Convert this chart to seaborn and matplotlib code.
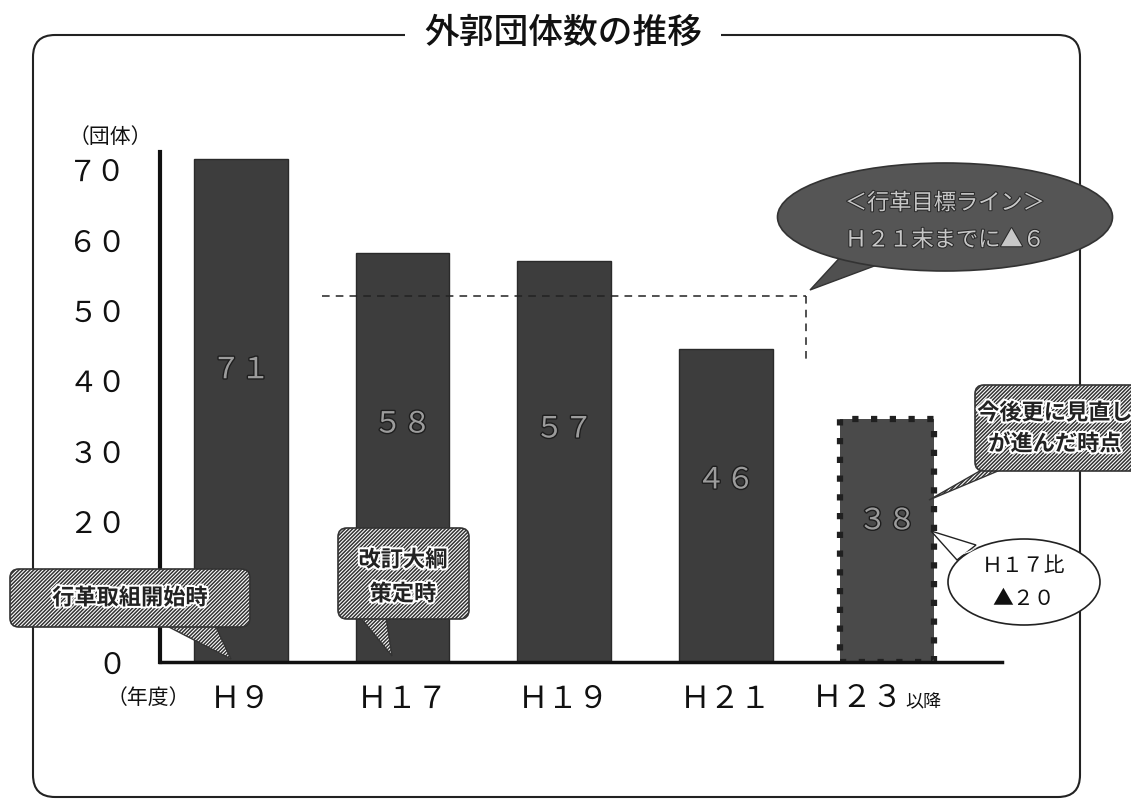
import numpy as np
import pandas as pd
import seaborn as sns
import matplotlib.pyplot as plt
from matplotlib.patches import FancyBboxPatch, Ellipse, Polygon
import matplotlib.patheffects as pe

# データ
nendo = ['Ｈ９', 'Ｈ１７', 'Ｈ１９', 'Ｈ２１', 'Ｈ２３']
bar_heights = [71.5, 58.2, 57.0, 44.5, 34.5]   # 図中の棒の高さ
bar_labels = [71, 58, 57, 46, 38]               # 棒の中の数字
y_ticks = [0, 10, 20, 30, 40, 50, 60, 70]
target_line = 52      # 行革目標ライン
target_line_end = 43

zen = str.maketrans('0123456789', '０１２３４５６７８９')

sns.set_style('white')
plt.rcParams['font.family'] = ['Noto Sans CJK JP', 'DejaVu Sans']
plt.rcParams['hatch.linewidth'] = 1.1

fig = plt.figure(figsize=(11.31, 8.02), dpi=100)
ax = fig.add_axes([160 / 1131, 140 / 802, 842 / 1131, 510 / 802])
ax.set_facecolor('none')

df = pd.DataFrame({'nendo': nendo, 'value': bar_heights})
sns.barplot(data=df, x='nendo', y='value', color='#3d3d3d', saturation=1,
            width=0.58, ax=ax, zorder=2)
for p in ax.patches:
    p.set_edgecolor('#2a2a2a')
    p.set_linewidth(1)

# H23以降は点線枠
last = ax.patches[-1]
last.set_facecolor('#4a4a4a')
last.set_edgecolor('#202020')
last.set_linewidth(4.5)
last.set_linestyle((0, (1, 2.0)))

ax.set_xlim(-0.5, 4.71)
ax.set_ylim(0, 72.5)
ax.set_xlabel('')
ax.set_ylabel('')

# 10 の目盛りラベルは吹き出しに隠れている
ax.set_yticks(y_ticks)
ax.set_yticklabels(['' if v == 10 else str(v).translate(zen) for v in y_ticks],
                   fontsize=21)
ax.set_xticks(range(len(nendo)))
ax.set_xticklabels(nendo[:-1] + [''], fontsize=22)
ax.set_xticks(np.arange(-0.5, len(nendo), 1), minor=True)
ax.tick_params(axis='y', direction='in', length=8, width=1.5, pad=24, colors='#111')
ax.tick_params(axis='x', which='major', length=0, pad=16, colors='#111')
ax.tick_params(axis='x', which='minor', direction='in', length=25, width=1.2, color='#111')

for s in ['top', 'right']:
    ax.spines[s].set_visible(False)
ax.spines['left'].set_linewidth(3)
ax.spines['left'].set_color('#111')
ax.spines['bottom'].set_linewidth(2.5)
ax.spines['bottom'].set_color('#111')

# 棒の中の数字
for i, (h, lab) in enumerate(zip(bar_heights, bar_labels)):
    ax.text(i, h * 0.58, str(lab).translate(zen), ha='center', va='center',
            fontsize=21, color='#9c9c9c', zorder=4,
            path_effects=[pe.withStroke(linewidth=2, foreground='#1e1e1e')])

# 目標ライン（破線）
ax.plot([0.5, 3.5], [target_line, target_line], color='#222', lw=1.1,
        ls=(0, (5, 4)), zorder=3)
ax.plot([3.5, 3.5], [target_line, target_line_end], color='#222', lw=1.1,
        ls=(0, (5, 4)), zorder=3)

# 重ね描き用（ピクセル座標）
ov = fig.add_axes([0, 0, 1, 1], zorder=5)
ov.set_xlim(0, 1131)
ov.set_ylim(802, 0)
ov.axis('off')
ov.set_facecolor('none')

# 外枠とタイトル
frame = FancyBboxPatch((33, 35), 1047, 762, boxstyle='round,pad=0,rounding_size=22',
                       fc='none', ec='#222', lw=1.5)
ov.add_patch(frame)
ov.text(563, 33, '外郭団体数の推移', ha='center', va='center', fontsize=25,
        fontweight='medium', color='#111', bbox=dict(fc='white', ec='none', pad=14))

ov.text(110, 137, '（団体）', ha='center', va='center', fontsize=15, color='#111')
ov.text(148, 698, '（年度）', ha='center', va='center', fontsize=15, color='#111')
ov.text(903, 698, nendo[-1], ha='right', va='center', fontsize=22, color='#111')
ov.text(905, 702, '以降', ha='left', va='center', fontsize=13, color='#111')

# 行革目標ラインの吹き出し
ov.add_patch(Polygon([[845, 252], [810, 290], [885, 262]], closed=True,
                     fc='#505050', ec='#333', lw=1))
ov.add_patch(Ellipse((945, 217), 335, 108, fc='#555555', ec='#333', lw=1.2))
light = [pe.withStroke(linewidth=1.5, foreground='#2a2a2a')]
ov.text(945, 203, '＜行革目標ライン＞', ha='center', va='center', fontsize=16,
        color='#c8c8c8', path_effects=light)
ov.text(945, 240, 'Ｈ２１末までに▲６', ha='center', va='center', fontsize=16,
        color='#c8c8c8', path_effects=light)

# 斜線の吹き出し
white_edge = [pe.withStroke(linewidth=3, foreground='white')]


def hatched_box(x, y, w, h, tail, lines, tx, ty, gap):
    ov.add_patch(Polygon(tail, closed=True, fc='white', ec='#333', lw=1,
                         hatch='/' * 9))
    ov.add_patch(FancyBboxPatch((x, y), w, h, boxstyle='round,pad=0,rounding_size=9',
                                fc='white', ec='#333', lw=1.2, hatch='/' * 9))
    for k, t in enumerate(lines):
        ov.text(tx, ty + k * gap, t, ha='center', va='center', fontsize=16,
                fontweight='bold', color='#222', path_effects=white_edge)


hatched_box(10, 569, 240, 58, [[165, 625], [215, 625], [231, 659]],
            ['行革取組開始時'], 130, 598, 0)
hatched_box(338, 528, 131, 91, [[360, 617], [386, 617], [392, 656]],
            ['改訂大綱', '策定時'], 403, 560, 34)
hatched_box(975, 385, 170, 86, [[985, 468], [1005, 468], [929, 500]],
            ['今後更に見直し', 'が進んだ時点'], 1055, 413, 31)

# H17比 吹き出し
ov.add_patch(Polygon([[976, 545], [931, 531], [957, 560]], closed=True,
                     fc='white', ec='#222', lw=1))
ov.add_patch(Ellipse((1024, 582), 152, 86, fc='white', ec='#222', lw=1.2))
ov.add_patch(Polygon([[978, 547], [955, 557], [970, 552]], closed=True,
                     fc='white', ec='none'))
ov.text(1024, 566, 'Ｈ１７比', ha='center', va='center', fontsize=15, color='#111')
ov.text(1024, 599, '▲２０', ha='center', va='center', fontsize=15, color='#111')

fig.savefig('out.png', dpi=100)
